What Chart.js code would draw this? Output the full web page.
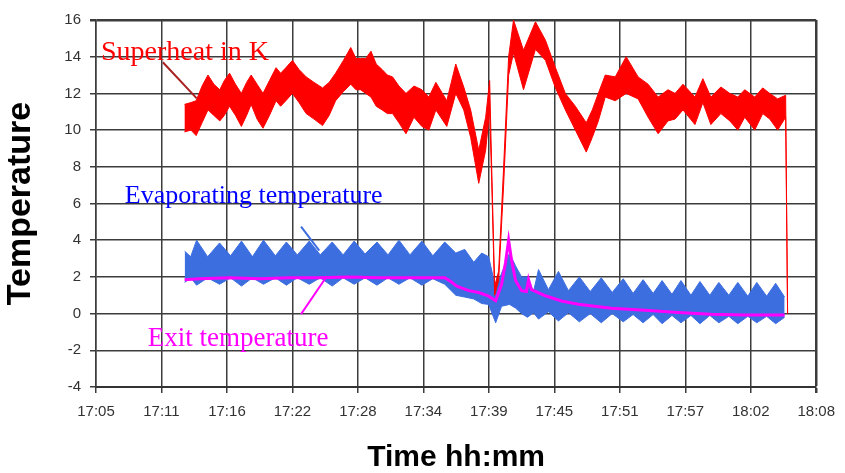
<!DOCTYPE html>
<html>
<head>
<meta charset="utf-8">
<script src="https://cdn.jsdelivr.net/npm/chart.js@4.4.1/dist/chart.umd.min.js"></script>
<style>
  body { margin: 0; background: #fff; }
  #wrap { width: 845px; height: 473px; }
</style>
</head>
<body>
<div id="wrap"><canvas id="tempChart" width="845" height="473"></canvas></div>
<script>
// Axis labels of the time axis, one every 5.76 minutes starting at 17:05
const timeLabels = ['17:05', '17:11', '17:16', '17:22', '17:28', '17:34', '17:39', '17:45', '17:51', '17:57', '18:02', '18:08'];
const tickStep = 5.76;
const tempTicks = [-4, 16, 2]; // min, max, step

// Superheat in K : the signal oscillates fast, so we keep its upper and lower edge
const superheatTime = [7.78, 8.35, 8.81, 9.33, 9.85, 10.37, 10.89, 11.29, 11.75, 12.27, 12.79, 13.25, 13.65, 14.17, 14.69, 15.26, 15.84, 16.24, 16.70, 17.28,
  17.86, 18.49, 19.18, 19.93, 20.51, 21.08, 21.77, 22.41, 22.87, 23.27, 23.73, 24.19, 24.65, 25.17, 25.63, 26.09, 26.65, 27.27, 27.97, 28.67,
  29.28, 29.90, 30.86, 31.65, 32.35, 32.96, 33.67, 34.28, 34.63, 34.81, 35.07, 35.42, 35.86, 36.30, 36.73, 37.61, 38.66, 39.54, 40.42, 41.29,
  42.17, 43.13, 43.66, 44.19, 44.80, 45.68, 46.64, 47.69, 48.57, 49.45, 50.32, 50.94, 51.64, 52.69, 53.39, 54.09, 54.97, 55.76, 56.46, 57.07,
  57.95, 58.65, 59.27, 59.97, 60.67, 60.84];
const superheatHigh = [11.4, 11.5, 11.6, 12.4, 13.0, 12.5, 12.2, 12.7, 13.1, 12.5, 12.0, 12.6, 13.0, 12.5, 12.0, 12.7, 13.4, 13.1, 13.4, 13.8,
  13.3, 12.9, 12.6, 12.3, 12.6, 13.1, 13.8, 14.5, 13.9, 13.9, 13.9, 14.3, 13.6, 13.3, 13.0, 12.9, 12.4, 12.0, 12.4, 12.2,
  11.8, 12.6, 11.6, 13.6, 12.35, 11.1, 8.9, 10.7, 12.7, 8.0, 1.5, 2.3, 8.0, 14.0, 16.0, 14.35, 15.9, 14.9, 13.4, 12.0,
  11.3, 10.4, 11.1, 12.0, 13.0, 12.9, 14.0, 12.9, 12.5, 11.8, 12.2, 12.0, 12.5, 11.8, 12.8, 11.8, 12.35, 12.0, 11.8, 12.2,
  11.8, 12.3, 12.0, 11.7, 11.9, 0];
const superheatLow = [9.9, 10.0, 9.7, 10.4, 11.1, 10.8, 10.5, 10.8, 11.3, 10.8, 10.2, 10.8, 11.4, 10.6, 10.1, 10.8, 11.6, 11.3, 11.6, 12.0,
  11.5, 10.9, 10.6, 10.25, 10.8, 11.6, 12.1, 12.5, 12.2, 12.2, 12.0, 11.8, 11.3, 11.1, 10.9, 10.9, 10.4, 9.8, 10.7, 10.2,
  10.0, 11.1, 10.2, 12.0, 11.1, 9.6, 7.1, 8.9, 11.1, 7.2, 1.0, 1.8, 7.0, 13.0, 14.2, 12.2, 14.4, 13.8, 12.3, 11.1,
  10.0, 8.8, 9.6, 10.5, 11.8, 11.6, 12.0, 11.7, 10.7, 9.8, 10.5, 10.6, 11.1, 10.3, 11.5, 10.3, 10.9, 10.5, 10.0, 10.7,
  10.0, 10.9, 10.6, 10.0, 10.7, 0];

// Evaporating temperature (upper and lower edge of the band)
const evapTime = [7.80, 8.33, 8.85, 9.82, 10.87, 11.84, 12.80, 13.76, 14.73, 15.78, 16.75, 17.71, 18.76, 19.73, 20.78, 21.74, 22.71, 23.67, 24.72, 25.69,
  26.65, 27.62, 28.67, 29.63, 30.68, 31.65, 32.44, 33.23, 33.93, 34.54, 35.16, 35.68, 36.38, 36.91, 37.44, 37.96, 38.49, 38.93, 39.80, 40.68,
  41.56, 42.52, 43.48, 44.45, 45.41, 46.38, 47.25, 48.13, 49.01, 49.80, 50.67, 51.46, 52.34, 53.13, 54.00, 54.79, 55.67, 56.46, 57.34, 58.13,
  59.00, 59.79, 60.58];
const evapHigh = [3.4, 3.1, 4.0, 3.1, 3.85, 3.15, 3.95, 3.1, 4.0, 3.15, 3.9, 3.2, 3.95, 3.2, 3.9, 3.2, 3.95, 3.25, 3.9, 3.2,
  4.0, 3.2, 3.95, 3.15, 3.9, 3.3, 3.5, 2.8, 3.3, 3.1, 1.4, 2.2, 3.3, 2.6, 2.0, 2.0, 1.2, 2.4, 1.3, 2.3,
  1.25, 2.0, 1.2, 1.95, 1.15, 1.9, 1.1, 1.85, 1.1, 1.8, 1.05, 1.8, 1.0, 1.75, 1.0, 1.7, 1.0, 1.7, 0.95, 1.7,
  0.95, 1.65, 0.9];
const evapLow = [1.7, 1.95, 1.55, 1.95, 1.6, 1.95, 1.5, 1.95, 1.6, 1.95, 1.55, 1.95, 1.6, 1.95, 1.5, 1.95, 1.6, 1.95, 1.55, 1.95,
  1.6, 1.95, 1.55, 1.9, 1.6, 1.0, 0.9, 0.8, 0.55, 0.5, -0.5, 0.4, 0.5, 0.3, 0.0, -0.2, 0.05, -0.3, 0.1, -0.4,
  0.05, -0.45, 0.0, -0.5, 0.0, -0.45, -0.05, -0.5, -0.05, -0.55, -0.1, -0.5, -0.1, -0.55, -0.1, -0.5, -0.15, -0.55, -0.15, -0.5,
  -0.15, -0.55, -0.2];

// Exit temperature
const exitTime = [7.80, 9.12, 11.75, 14.38, 17.01, 19.64, 22.27, 24.90, 27.53, 30.68, 31.21, 31.74, 32.79, 33.67, 34.54, 35.16, 35.68, 36.03, 36.30, 36.56,
  36.91, 37.44, 37.87, 38.05, 38.31, 39.54, 40.94, 42.43, 45.33, 48.31, 51.20, 54.09, 57.07, 60.58];
const exitTemp = [1.85, 1.9, 1.95, 1.9, 1.95, 1.95, 2.0, 1.95, 1.95, 1.95, 1.75, 1.5, 1.25, 1.15, 0.95, 0.7, 1.6, 2.8, 4.0, 2.9,
  1.8, 1.25, 1.2, 1.85, 1.3, 0.97, 0.69, 0.51, 0.29, 0.18, 0.06, -0.03, -0.07, -0.07];

const toPoints = (times, vals) => times.map((t, i) => ({ x: t, y: vals[i] }));

// Text labels placed in the plot (time, temperature) with their pointer line
const notes = [
  { text: 'Superheat in K', color: '#ff0000', at: [0.44, 13.81], size: 28, line: [5.88, 13.70, 8.86, 11.73], lineColor: '#a82020' },
  { text: 'Evaporating temperature', color: '#0000ff', at: [2.54, 6.05], size: 26, line: [18.04, 4.74, 19.64, 3.43], lineColor: '#3c6ee0' },
  { text: 'Exit temperature', color: '#ff00ff', at: [4.56, -1.77], size: 27, line: [18.04, -0.03, 20.23, 1.97], lineColor: '#ff00ff' }
];

const notesPlugin = {
  id: 'notes',
  afterDatasetsDraw(chart) {
    const { ctx, scales: { x, y } } = chart;
    ctx.save();
    notes.forEach(n => {
      ctx.strokeStyle = n.lineColor;
      ctx.lineWidth = 2;
      ctx.beginPath();
      ctx.moveTo(x.getPixelForValue(n.line[0]), y.getPixelForValue(n.line[1]));
      ctx.lineTo(x.getPixelForValue(n.line[2]), y.getPixelForValue(n.line[3]));
      ctx.stroke();
      ctx.font = n.size + 'px "Liberation Serif", "Times New Roman", serif';
      ctx.fillStyle = n.color;
      ctx.textBaseline = 'alphabetic';
      ctx.fillText(n.text, x.getPixelForValue(n.at[0]), y.getPixelForValue(n.at[1]));
    });
    ctx.restore();
  }
};

const sans = '"Liberation Sans", Arial, sans-serif';
const red = '#ff0000';
const blue = '#3c6ee0';

new Chart(document.getElementById('tempChart').getContext('2d'), {
  type: 'line',
  data: {
    datasets: [
      { label: 'Superheat in K', data: toPoints(superheatTime, superheatHigh), borderColor: red, backgroundColor: red, borderWidth: 1, fill: '+1' },
      { label: 'Superheat low', data: toPoints(superheatTime, superheatLow), borderColor: red, borderWidth: 1, fill: false },
      { label: 'Exit temperature', data: toPoints(exitTime, exitTemp), borderColor: '#ff00ff', borderWidth: 3, fill: false },
      { label: 'Evaporating temperature', data: toPoints(evapTime, evapHigh), borderColor: blue, backgroundColor: blue, borderWidth: 1, fill: '+1' },
      { label: 'Evaporating low', data: toPoints(evapTime, evapLow), borderColor: blue, borderWidth: 1, fill: false }
    ]
  },
  options: {
    responsive: false,
    animation: false,
    layout: { padding: { top: 20, right: 26, left: 0, bottom: 0 } },
    elements: { point: { radius: 0 }, line: { tension: 0 } },
    plugins: { legend: { display: false }, tooltip: { enabled: false } },
    scales: {
      x: {
        type: 'linear',
        min: 0,
        max: (timeLabels.length - 1) * tickStep,
        afterBuildTicks: s => { s.ticks = timeLabels.map((l, i) => ({ value: i * tickStep })); },
        afterFit: s => { s.height = 86; },
        ticks: { callback: (v, i) => timeLabels[i], autoSkip: false, maxRotation: 0, padding: 10, color: '#333', font: { family: sans, size: 15 } },
        grid: { color: '#3c3c3c', lineWidth: c => c.index === timeLabels.length - 1 ? 2.5 : 1.5, tickLength: 6 },
        border: { color: '#333', width: 2 },
        title: { display: true, text: 'Time hh:mm', color: '#000', padding: 0, font: { family: sans, size: 30, weight: 'bold', lineHeight: 1 } }
      },
      y: {
        min: tempTicks[0],
        max: tempTicks[1],
        afterFit: s => { s.width = 96; },
        ticks: { stepSize: tempTicks[2], padding: 9, color: '#333', font: { family: sans, size: 15 } },
        grid: { color: '#3c3c3c', lineWidth: c => c.tick && c.tick.value === tempTicks[1] ? 2.5 : 1.5, tickLength: 6 },
        border: { color: '#3c3c3c', width: 1.5 },
        title: { display: true, text: 'Temperature', color: '#000', padding: { top: 4, bottom: 0 }, font: { family: sans, size: 34, weight: 'bold', lineHeight: 1 } }
      }
    }
  },
  plugins: [notesPlugin]
});
</script>
</body>
</html>
